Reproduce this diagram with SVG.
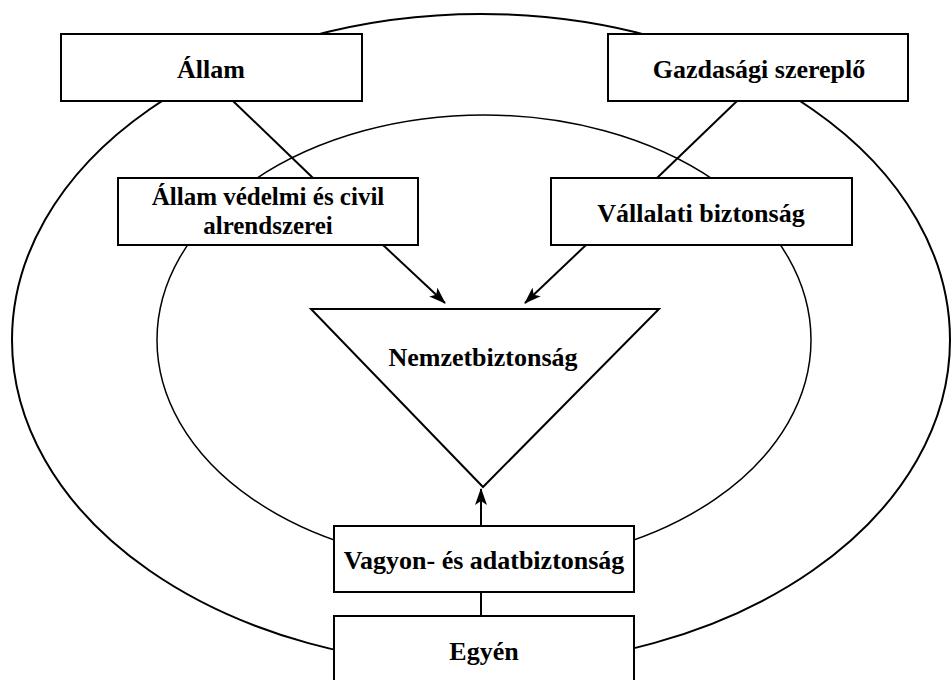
<svg xmlns="http://www.w3.org/2000/svg" width="952" height="680" viewBox="0 0 952 680">
<defs>
<style>
.box{fill:#fff;stroke:#000;stroke-width:2}
.lbl{font-family:"Liberation Serif","Times New Roman",serif;font-weight:bold;font-size:26px;fill:#000;text-anchor:middle}
.sm{font-size:25px}
.ring{fill:none;stroke:#000}
.con{stroke:#000;stroke-width:2;fill:none}
</style>
<marker id="arr" viewBox="0 0 17 12" refX="16" refY="6" markerWidth="17" markerHeight="12" markerUnits="userSpaceOnUse" orient="auto">
<path d="M0,0 L17,6 L0,12 L4,6 z" fill="#000"/>
</marker>
</defs>
<rect width="952" height="680" fill="#fff"/>
<g id="rings">
<ellipse class="ring" cx="481" cy="340" rx="469" ry="326" stroke-width="2"/>
<ellipse class="ring" cx="484" cy="340" rx="327" ry="225" stroke-width="1.5"/>
</g>
<g id="connectors">
<line class="con" x1="233" y1="101" x2="313" y2="178"/>
<line class="con" x1="737" y1="101" x2="657" y2="178"/>
<line class="con" x1="383" y1="245" x2="445" y2="303" marker-end="url(#arr)"/>
<line class="con" x1="586" y1="245" x2="525" y2="303" marker-end="url(#arr)"/>
<line class="con" x1="481" y1="526" x2="481" y2="489" marker-end="url(#arr)"/>
<line class="con" x1="481" y1="592" x2="481" y2="616"/>
</g>
<g id="allam">
<rect class="box" x="61" y="34" width="301" height="67"/>
<text class="lbl" x="211" y="78">Állam</text>
</g>
<g id="gazdasagi">
<rect class="box" x="608" y="34" width="300" height="67"/>
<text class="lbl" x="759" y="78">Gazdasági szereplő</text>
</g>
<g id="allam-vedelmi">
<rect class="box" x="118" y="178" width="300" height="67"/>
<text class="lbl sm" x="268" y="205">Állam védelmi és civil</text>
<text class="lbl sm" x="268" y="234">alrendszerei</text>
</g>
<g id="vallalati">
<rect class="box" x="551" y="178" width="301" height="67"/>
<text class="lbl" x="701" y="222">Vállalati biztonság</text>
</g>
<g id="nemzetbiztonsag">
<polygon class="box" points="311,309 659,309 483,487"/>
<text class="lbl" x="483" y="366">Nemzetbiztonság</text>
</g>
<g id="vagyon">
<rect class="box" x="334" y="526" width="300" height="66"/>
<text class="lbl" x="484" y="569">Vagyon- és adatbiztonság</text>
</g>
<g id="egyen">
<rect class="box" x="334" y="616" width="300" height="80"/>
<text class="lbl" x="484" y="660">Egyén</text>
</g>
</svg>
